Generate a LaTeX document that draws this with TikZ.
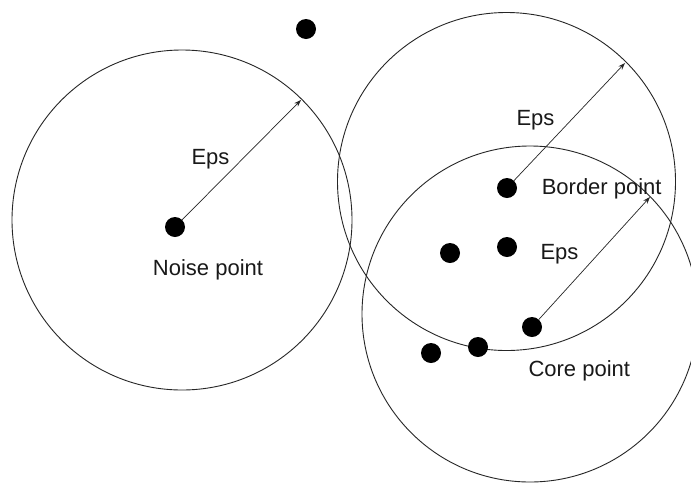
\documentclass[tikz,border=0pt]{standalone}
\usepackage{fontspec}
\setmainfont{Liberation Sans}
\usetikzlibrary{arrows.meta}
\begin{document}
\begin{tikzpicture}[x=1pt,y=-1pt,
  ring/.style={draw=black!85, line width=0.9pt},
  pt/.style={circle, fill=black, inner sep=0pt, minimum size=20pt},
  epsarrow/.style={draw=black!85, line width=0.7pt, -{Stealth[length=7pt,width=5pt]}},
  lbl/.style={font=\fontsize{22}{26}\selectfont, anchor=base, inner sep=0pt, text=black!90}]
\useasboundingbox (0,0) rectangle (691,483);
\fill[white] (0,0) rectangle (691,483);

% Eps-neighbourhoods
\draw[ring] (182,220) circle [radius=170];
\draw[ring] (506.5,181.5) circle [radius=169];
\draw[ring] (530,314) circle [radius=168];

% data points
\node[pt] (lone)   at (306,29)  {};
\node[pt] (noise)  at (175,227) {};
\node[pt] (border) at (507,188) {};
\node[pt] (midA)   at (450,253) {};
\node[pt] (midB)   at (507,247) {};
\node[pt] (core)   at (532,327) {};
\node[pt] (lowA)   at (431,353) {};
\node[pt] (lowB)   at (478,347) {};

% radius ends on the circles
\coordinate (r1) at (301,100);
\coordinate (r2) at (625,63);
\coordinate (r3) at (650,197);

\draw[epsarrow] (noise) -- (r1);
\draw[epsarrow] (border) -- (r2);
\draw[epsarrow] (core) -- (r3);

% labels
\node[lbl] (tEps1)   at (210.5,164) {Eps};
\node[lbl] (tNoise)  at (208,275)   {Noise point};
\node[lbl] (tEps2)   at (535.5,125) {Eps};
\node[lbl] (tBorder) at (601.7,194) {Border point};
\node[lbl] (tEps3)   at (559.5,259) {Eps};
\node[lbl] (tCore)   at (579.3,376.7) {Core point};
\end{tikzpicture}
\end{document}
